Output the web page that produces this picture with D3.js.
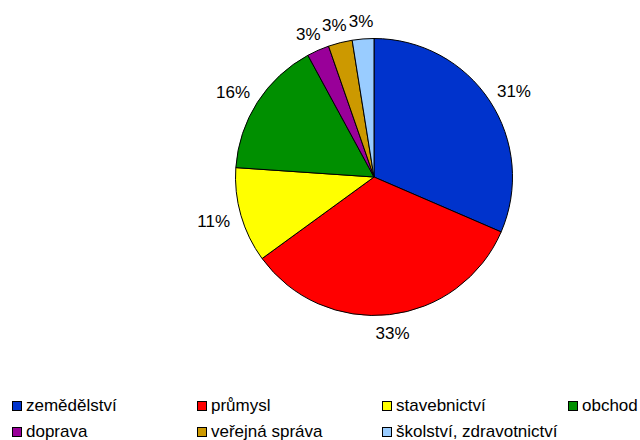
<!DOCTYPE html>
<html>
<head>
<meta charset="utf-8">
<script src="https://cdn.jsdelivr.net/npm/d3@7"></script>
<style>
html,body{margin:0;padding:0;background:#fff;}
svg{display:block;font-family:"Liberation Sans",Arial,sans-serif;}
</style>
</head>
<body>
<svg id="chart" width="640" height="440"></svg>
<script>
const categories = ["zemědělství","průmysl","stavebnictví","obchod","doprava","veřejná správa","školství, zdravotnictví"];
const values = [31.49, 33.49, 11.1, 16.0, 2.6, 2.8, 2.52];
const colors = ["#0033CC","#FF0000","#FFFF00","#008F00","#990099","#CC9900","#99CCFF"];

const svg = d3.select("#chart");
const cx = 374, cy = 177, r = 138.5;
const total = d3.sum(values);
const data = categories.map((c,i)=>({name:c, value:values[i], color:colors[i]}));

const pie = d3.pie().value(d=>d.value).sort(null);
const arcs = pie(data);
const arc = d3.arc().innerRadius(0).outerRadius(r);

const g = svg.append("g").attr("transform",`translate(${cx},${cy})`);
g.selectAll("path").data(arcs).join("path")
  .attr("d", arc)
  .attr("fill", d=>d.data.color)
  .attr("stroke","#000")
  .attr("stroke-width",1)
  .attr("stroke-linejoin","round");

// labels outside
const fontSize = 17;
arcs.forEach(a=>{
  const ang = (a.startAngle + a.endAngle)/2;
  const s = Math.sin(ang), c = Math.cos(ang);
  const txt = Math.round(a.data.value/total*100) + "%";
  const t = g.append("text").text(txt)
    .attr("font-size", fontSize)
    .attr("fill","#000")
    .attr("text-anchor","middle");
  const w = t.node().getComputedTextLength();
  const h = 13;
  const rr = r + 12;
  const px = rr*s + s*w/2;
  const py = -rr*c - c*h/2;
  t.attr("x", px).attr("y", py + fontSize*0.36);
});

// legend
const legCols = [12, 197, 382, 568];
const legRows = [401, 427];
data.forEach((d,i)=>{
  const col = i % 4, row = Math.floor(i/4);
  const x = legCols[col], y = legRows[row];
  svg.append("rect").attr("x", x+0.5).attr("y", y+0.5).attr("width",9).attr("height",9)
    .attr("fill", d.color).attr("stroke","#000").attr("stroke-width",1);
  svg.append("text").attr("x", x+14).attr("y", y+10)
    .attr("font-size", fontSize).attr("fill","#000").text(d.name);
});
</script>
</body>
</html>
